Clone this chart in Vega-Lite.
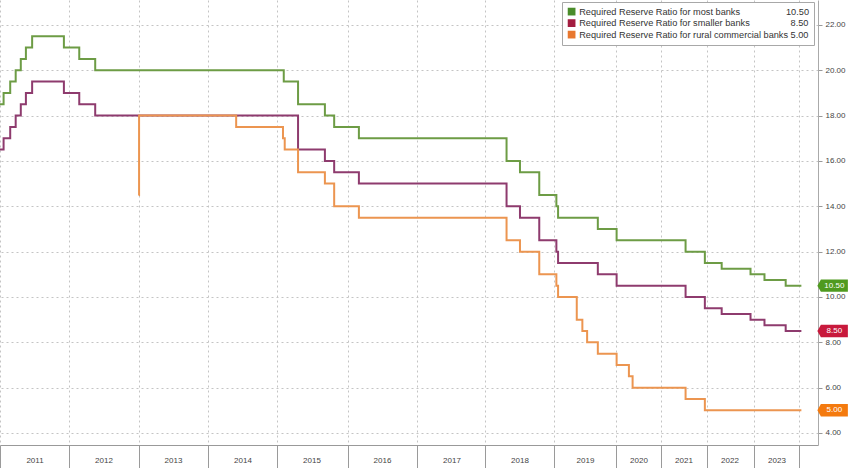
{
  "$schema": "https://vega.github.io/schema/vega-lite/v6.json",
  "width": 818,
  "height": 445,
  "autosize": {"type": "none"},
  "padding": {"left": 0, "top": 0, "right": 30, "bottom": 23},
  "background": "white",
  "config": {
    "view": {"stroke": null},
    "font": "Liberation Sans",
    "axis": {"labelFont": "Liberation Sans", "labelColor": "#444444", "titleFont": "Liberation Sans"}
  },
  "data": {
    "values": [
      {"series": "Required Reserve Ratio for most banks", "date": "2011-01-01", "value": 18.5},
      {"series": "Required Reserve Ratio for most banks", "date": "2011-01-20", "value": 19.0},
      {"series": "Required Reserve Ratio for most banks", "date": "2011-02-24", "value": 19.5},
      {"series": "Required Reserve Ratio for most banks", "date": "2011-03-25", "value": 20.0},
      {"series": "Required Reserve Ratio for most banks", "date": "2011-04-21", "value": 20.5},
      {"series": "Required Reserve Ratio for most banks", "date": "2011-05-18", "value": 21.0},
      {"series": "Required Reserve Ratio for most banks", "date": "2011-06-20", "value": 21.5},
      {"series": "Required Reserve Ratio for most banks", "date": "2011-12-05", "value": 21.0},
      {"series": "Required Reserve Ratio for most banks", "date": "2012-02-24", "value": 20.5},
      {"series": "Required Reserve Ratio for most banks", "date": "2012-05-18", "value": 20.0},
      {"series": "Required Reserve Ratio for most banks", "date": "2015-02-05", "value": 19.5},
      {"series": "Required Reserve Ratio for most banks", "date": "2015-04-20", "value": 18.5},
      {"series": "Required Reserve Ratio for most banks", "date": "2015-09-06", "value": 18.0},
      {"series": "Required Reserve Ratio for most banks", "date": "2015-10-24", "value": 17.5},
      {"series": "Required Reserve Ratio for most banks", "date": "2016-03-01", "value": 17.0},
      {"series": "Required Reserve Ratio for most banks", "date": "2018-04-25", "value": 16.0},
      {"series": "Required Reserve Ratio for most banks", "date": "2018-07-05", "value": 15.5},
      {"series": "Required Reserve Ratio for most banks", "date": "2018-10-15", "value": 14.5},
      {"series": "Required Reserve Ratio for most banks", "date": "2019-01-15", "value": 14.0},
      {"series": "Required Reserve Ratio for most banks", "date": "2019-01-25", "value": 13.5},
      {"series": "Required Reserve Ratio for most banks", "date": "2019-09-16", "value": 13.0},
      {"series": "Required Reserve Ratio for most banks", "date": "2020-01-06", "value": 12.5},
      {"series": "Required Reserve Ratio for most banks", "date": "2021-07-15", "value": 12.0},
      {"series": "Required Reserve Ratio for most banks", "date": "2021-12-15", "value": 11.5},
      {"series": "Required Reserve Ratio for most banks", "date": "2022-04-25", "value": 11.25},
      {"series": "Required Reserve Ratio for most banks", "date": "2022-12-05", "value": 11.0},
      {"series": "Required Reserve Ratio for most banks", "date": "2023-03-27", "value": 10.75},
      {"series": "Required Reserve Ratio for most banks", "date": "2023-09-15", "value": 10.5},
      {"series": "Required Reserve Ratio for most banks", "date": "2024-01-20", "value": 10.5},

      {"series": "Required Reserve Ratio for smaller banks", "date": "2011-01-01", "value": 16.5},
      {"series": "Required Reserve Ratio for smaller banks", "date": "2011-01-20", "value": 17.0},
      {"series": "Required Reserve Ratio for smaller banks", "date": "2011-02-24", "value": 17.5},
      {"series": "Required Reserve Ratio for smaller banks", "date": "2011-03-25", "value": 18.0},
      {"series": "Required Reserve Ratio for smaller banks", "date": "2011-04-21", "value": 18.5},
      {"series": "Required Reserve Ratio for smaller banks", "date": "2011-05-18", "value": 19.0},
      {"series": "Required Reserve Ratio for smaller banks", "date": "2011-06-20", "value": 19.5},
      {"series": "Required Reserve Ratio for smaller banks", "date": "2011-12-05", "value": 19.0},
      {"series": "Required Reserve Ratio for smaller banks", "date": "2012-02-24", "value": 18.5},
      {"series": "Required Reserve Ratio for smaller banks", "date": "2012-05-18", "value": 18.0},
      {"series": "Required Reserve Ratio for smaller banks", "date": "2015-04-20", "value": 16.5},
      {"series": "Required Reserve Ratio for smaller banks", "date": "2015-09-06", "value": 16.0},
      {"series": "Required Reserve Ratio for smaller banks", "date": "2015-10-24", "value": 15.5},
      {"series": "Required Reserve Ratio for smaller banks", "date": "2016-03-01", "value": 15.0},
      {"series": "Required Reserve Ratio for smaller banks", "date": "2018-04-25", "value": 14.0},
      {"series": "Required Reserve Ratio for smaller banks", "date": "2018-07-05", "value": 13.5},
      {"series": "Required Reserve Ratio for smaller banks", "date": "2018-10-15", "value": 12.5},
      {"series": "Required Reserve Ratio for smaller banks", "date": "2019-01-15", "value": 12.0},
      {"series": "Required Reserve Ratio for smaller banks", "date": "2019-01-25", "value": 11.5},
      {"series": "Required Reserve Ratio for smaller banks", "date": "2019-09-16", "value": 11.0},
      {"series": "Required Reserve Ratio for smaller banks", "date": "2020-01-06", "value": 10.5},
      {"series": "Required Reserve Ratio for smaller banks", "date": "2021-07-15", "value": 10.0},
      {"series": "Required Reserve Ratio for smaller banks", "date": "2021-12-15", "value": 9.5},
      {"series": "Required Reserve Ratio for smaller banks", "date": "2022-04-25", "value": 9.25},
      {"series": "Required Reserve Ratio for smaller banks", "date": "2022-12-05", "value": 9.0},
      {"series": "Required Reserve Ratio for smaller banks", "date": "2023-03-27", "value": 8.75},
      {"series": "Required Reserve Ratio for smaller banks", "date": "2023-09-15", "value": 8.5},
      {"series": "Required Reserve Ratio for smaller banks", "date": "2024-01-20", "value": 8.5},

      {"series": "Required Reserve Ratio for rural commercial banks", "date": "2013-01-01", "value": 14.5},
      {"series": "Required Reserve Ratio for rural commercial banks", "date": "2013-01-04", "value": 18.0},
      {"series": "Required Reserve Ratio for rural commercial banks", "date": "2014-05-30", "value": 17.5},
      {"series": "Required Reserve Ratio for rural commercial banks", "date": "2015-02-01", "value": 17.0},
      {"series": "Required Reserve Ratio for rural commercial banks", "date": "2015-02-10", "value": 16.5},
      {"series": "Required Reserve Ratio for rural commercial banks", "date": "2015-04-20", "value": 15.5},
      {"series": "Required Reserve Ratio for rural commercial banks", "date": "2015-09-06", "value": 15.0},
      {"series": "Required Reserve Ratio for rural commercial banks", "date": "2015-10-24", "value": 14.0},
      {"series": "Required Reserve Ratio for rural commercial banks", "date": "2016-03-01", "value": 13.5},
      {"series": "Required Reserve Ratio for rural commercial banks", "date": "2018-04-25", "value": 12.5},
      {"series": "Required Reserve Ratio for rural commercial banks", "date": "2018-07-05", "value": 12.0},
      {"series": "Required Reserve Ratio for rural commercial banks", "date": "2018-10-15", "value": 11.0},
      {"series": "Required Reserve Ratio for rural commercial banks", "date": "2019-01-15", "value": 10.5},
      {"series": "Required Reserve Ratio for rural commercial banks", "date": "2019-01-25", "value": 10.0},
      {"series": "Required Reserve Ratio for rural commercial banks", "date": "2019-05-15", "value": 9.0},
      {"series": "Required Reserve Ratio for rural commercial banks", "date": "2019-06-17", "value": 8.5},
      {"series": "Required Reserve Ratio for rural commercial banks", "date": "2019-07-15", "value": 8.0},
      {"series": "Required Reserve Ratio for rural commercial banks", "date": "2019-09-16", "value": 7.5},
      {"series": "Required Reserve Ratio for rural commercial banks", "date": "2020-01-06", "value": 7.0},
      {"series": "Required Reserve Ratio for rural commercial banks", "date": "2020-04-15", "value": 6.5},
      {"series": "Required Reserve Ratio for rural commercial banks", "date": "2020-05-15", "value": 6.0},
      {"series": "Required Reserve Ratio for rural commercial banks", "date": "2021-07-15", "value": 5.5},
      {"series": "Required Reserve Ratio for rural commercial banks", "date": "2021-12-15", "value": 5.0},
      {"series": "Required Reserve Ratio for rural commercial banks", "date": "2024-01-20", "value": 5.0}
    ]
  },
  "encoding": {
    "x": {
      "field": "date",
      "type": "temporal",
      "title": null,
      "scale": {
        "type": "utc",
        "nice": false,
        "domain": [1293840000000, 1717200000000],
        "domainRaw": {"expr": "[1293840000000, 1325376000000, 1356998400000, 1388534400000, 1420070400000, 1451606400000, 1483228800000, 1514764800000, 1546300800000, 1577836800000, 1609459200000, 1640995200000, 1672531200000, 1704067200000, 1717200000000]"},
        "range": [0, 69, 138.5, 208, 277, 347.5, 417, 485, 554, 616, 661, 707, 754, 799, 818]
      },
      "axis": {
        "values": [1293840000000, 1325376000000, 1356998400000, 1388534400000, 1420070400000, 1451606400000, 1483228800000, 1514764800000, 1546300800000, 1577836800000, 1609459200000, 1640995200000, 1672531200000, 1704067200000],
        "format": "%Y",
        "labelExpr": "utcyear(datum.value) < 2024 ? datum.label : ''",
        "grid": true,
        "gridDash": [2, 3],
        "gridColor": "#c4c4c4",
        "gridWidth": 1,
        "ticks": true,
        "tickSize": 23,
        "tickWidth": 1,
        "tickColor": "#9a9a9a",
        "domainColor": "#999999",
        "labelFontSize": 8,
        "labelPadding": -12,
        "labelBaseline": "top",
        "labelAlign": "center",
        "labelOverlap": false,
        "labelFlush": false,
        "labelBound": false,
        "labelOffset": {
          "condition": [
            {"test": "utcyear(datum.value) == 2019", "value": 31},
            {"test": "utcyear(datum.value) >= 2020", "value": 22.5}
          ],
          "value": 34.5
        }
      }
    },
    "y": {
      "field": "value",
      "type": "quantitative",
      "title": null,
      "scale": {"domain": [3.47, 23.1], "nice": false, "zero": false},
      "axis": {
        "orient": "right",
        "values": [4, 6, 8, 10, 12, 14, 16, 18, 20, 22],
        "format": ".2f",
        "grid": true,
        "gridDash": [2, 3],
        "gridColor": "#c4c4c4",
        "tickSize": 4,
        "tickColor": "#999999",
        "domainColor": "#aaaaaa",
        "labelFontSize": 8,
        "labelPadding": 3,
        "labelBaseline": "middle"
      }
    }
  },
  "layer": [
    {
      "mark": {"type": "line", "interpolate": "step-after", "strokeWidth": 2},
      "encoding": {
        "color": {
          "field": "series",
          "type": "nominal",
          "scale": {
            "domain": ["Required Reserve Ratio for most banks", "Required Reserve Ratio for smaller banks", "Required Reserve Ratio for rural commercial banks"],
            "range": ["#6d9c45", "#8e3b6e", "#ec9550"]
          },
          "legend": {
            "orient": "none",
            "legendX": 562,
            "legendY": 2,
            "title": null,
            "direction": "vertical",
            "fillColor": "white",
            "strokeColor": "#a8a8a8",
            "padding": 5,
            "symbolType": "square",
            "symbolSize": 60,
            "symbolStrokeWidth": 0,
            "symbolOffset": 0,
            "labelFont": "Liberation Sans",
            "labelFontSize": 9.2,
            "labelColor": "#333333",
            "labelOffset": 3,
            "labelLimit": 400,
            "rowPadding": 1.5,
            "labelExpr": "datum.label == 'Required Reserve Ratio for most banks' ? datum.label + '\u00a0\u00a0\u00a0\u00a0\u00a0\u00a0\u00a0\u00a0\u00a0\u00a0\u00a0\u00a0\u00a0\u00a0\u00a0\u00a0\u00a0\u00a010.50' : datum.label == 'Required Reserve Ratio for smaller banks' ? datum.label + '\u00a0\u00a0\u00a0\u00a0\u00a0\u00a0\u00a0\u00a0\u00a0\u00a0\u00a0\u00a0\u00a0\u00a0\u00a0\u00a08.50' : datum.label + '\u00a05.00'",
            "encode": {
              "symbols": {
                "update": {
                  "fill": {"signal": "datum.value == 'Required Reserve Ratio for most banks' ? '#4a8c2a' : datum.value == 'Required Reserve Ratio for smaller banks' ? '#a31d40' : '#e8772e'"},
                  "stroke": {"value": "transparent"}
                }
              }
            }
          }
        }
      }
    },
    {
      "transform": [
        {"window": [{"op": "row_number", "as": "rn"}], "groupby": ["series"], "sort": [{"field": "date", "order": "descending"}]},
        {"filter": "datum.rn == 1"}
      ],
      "mark": {"type": "point", "shape": "M1.6,0L1.95,-0.62L4.65,-0.62L4.65,0.62L1.95,0.62Z", "filled": true, "size": 400, "opacity": 1, "strokeWidth": 0, "clip": false},
      "encoding": {
        "color": {
          "field": "series",
          "type": "nominal",
          "scale": {
            "domain": ["Required Reserve Ratio for most banks", "Required Reserve Ratio for smaller banks", "Required Reserve Ratio for rural commercial banks"],
            "range": ["#4f9a1f", "#c8193c", "#f47a0e"]
          },
          "legend": null
        }
      }
    },
    {
      "transform": [
        {"window": [{"op": "row_number", "as": "rn"}], "groupby": ["series"], "sort": [{"field": "date", "order": "descending"}]},
        {"filter": "datum.rn == 1"}
      ],
      "mark": {"type": "text", "dx": 33, "align": "center", "baseline": "middle", "color": "white", "fontSize": 8, "font": "Liberation Sans", "clip": false},
      "encoding": {
        "text": {"field": "value", "type": "quantitative", "format": ".2f"}
      }
    }
  ],
  "resolve": {"scale": {"color": "independent"}}
}
